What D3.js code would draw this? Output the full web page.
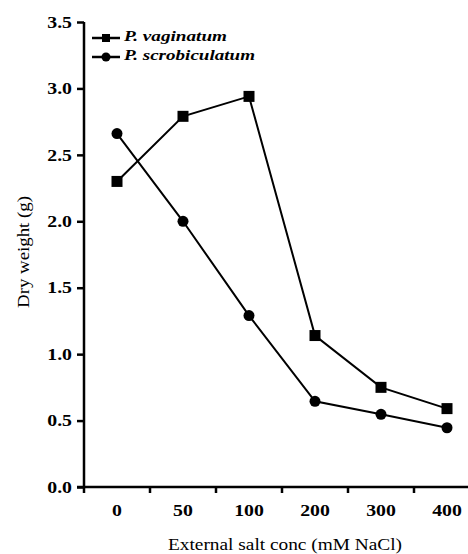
<!DOCTYPE html>
<html>
<head>
<meta charset="utf-8">
<script src="https://cdn.jsdelivr.net/npm/d3@7"></script>
<style>
  body { margin: 0; background: #fff; }
  svg text { font-family: "Liberation Serif", "Times New Roman", serif; fill: #000; }
  .axis path, .axis line { stroke: #000; stroke-width: 2.5; }
  .axis text { font-size: 16.5px; font-weight: bold; }
  .axis-title { font-size: 16px; }
  .legend text { font-size: 15.5px; font-weight: bold; font-style: italic; }
</style>
</head>
<body>
<svg id="chart"></svg>
<script>
// salt concentrations (mM NaCl), plotted as evenly spaced categories
const concs = ['0', '50', '100', '200', '300', '400'];
const vaginatum = [2.30, 2.79, 2.94, 1.14, 0.75, 0.59];
const scrobiculatum = [2.66, 2.00, 1.29, 0.645, 0.547, 0.446];
const yTicks = [0, 0.5, 1.0, 1.5, 2.0, 2.5, 3.0, 3.5];
const seriesNames = ['P. vaginatum', 'P. scrobiculatum'];

const width = 468, height = 554;
const margin = {top: 22, right: -12, bottom: 67, left: 84};

// the original typesetting is a bit wider than Liberation Serif, so stretch text
function stretch(sel, k) {
  sel.each(function() {
    const w = this.getComputedTextLength();
    d3.select(this)
      .attr('textLength', w * k)
      .attr('lengthAdjust', 'spacingAndGlyphs');
  });
}

const svg = d3.select('#chart')
    .attr('width', width)
    .attr('height', height);

const innerW = width - margin.left - margin.right;
const innerH = height - margin.top - margin.bottom;

const chart = svg.append('g')
    .attr('transform', `translate(${margin.left},${margin.top})`);

const xScale = d3.scaleBand(concs, [0, innerW]);
const yScale = d3.scaleLinear([0, 3.5], [innerH, 0]);

// x axis: ticks sit on band edges, labels in band centres
const xAxisG = chart.append('g')
    .attr('class', 'axis x-axis')
    .attr('transform', `translate(0,${innerH})`);

xAxisG.append('line')
    .attr('x1', -7).attr('x2', width - margin.left)
    .attr('y1', 0).attr('y2', 0);

xAxisG.selectAll('.tick-mark')
    .data(concs)
    .join('line')
      .attr('class', 'tick-mark')
      .attr('x1', d => xScale(d)).attr('x2', d => xScale(d))
      .attr('y1', 0).attr('y2', 6);

xAxisG.selectAll('.tick-label')
    .data(concs)
    .join('text')
      .attr('class', 'tick-label')
      .attr('x', d => xScale(d) + xScale.bandwidth() / 2)
      .attr('y', 29)
      .style('text-anchor', 'middle')
      .text(d => d)
      .call(stretch, 1.2);

// y axis
const yAxis = d3.axisLeft(yScale)
    .tickValues(yTicks)
    .tickFormat(d3.format('.1f'))
    .tickSize(7)
    .tickSizeOuter(0)
    .tickPadding(5);

const yAxisG = chart.append('g')
    .attr('class', 'axis y-axis')
    .call(yAxis)
    .attr('font-family', null)
    .attr('font-size', null);

yAxisG.select('.domain').attr('d', `M0,${innerH + 1}V${yScale(3.5)}`);
yAxisG.selectAll('.tick text').call(stretch, 1.2);

// axis titles
svg.append('text')
    .attr('class', 'axis-title')
    .attr('x', 285)
    .attr('y', 550)
    .style('text-anchor', 'middle')
    .text('External salt conc (mM NaCl)')
    .attr('textLength', 234)
    .attr('lengthAdjust', 'spacingAndGlyphs');

svg.append('text')
    .attr('class', 'axis-title')
    .attr('transform', 'translate(29,252) rotate(-90)')
    .style('text-anchor', 'middle')
    .text('Dry weight (g)')
    .attr('textLength', 112)
    .attr('lengthAdjust', 'spacingAndGlyphs');

// lines + markers
const cx = (d, i) => xScale(concs[i]) + xScale.bandwidth() / 2;
const line = d3.line()
    .x(cx)
    .y(d => yScale(d));

[vaginatum, scrobiculatum].forEach((vals, k) => {
  chart.append('path')
      .datum(vals)
      .attr('fill', 'none')
      .attr('stroke', '#000')
      .attr('stroke-width', 2)
      .attr('d', line);

  if (k === 0) {
    chart.selectAll('.sq')
        .data(vals)
        .join('rect')
          .attr('class', 'sq')
          .attr('x', (d, i) => cx(d, i) - 5.5)
          .attr('y', d => yScale(d) - 5.5)
          .attr('width', 11).attr('height', 11)
          .attr('fill', '#000');
  } else {
    chart.selectAll('.dot')
        .data(vals)
        .join('circle')
          .attr('class', 'dot')
          .attr('cx', cx)
          .attr('cy', d => yScale(d))
          .attr('r', 5.5)
          .attr('fill', '#000');
  }
});

// legend
const legendW = [103, 131];
const legend = svg.append('g').attr('class', 'legend');
seriesNames.forEach((name, k) => {
  const ly = 38 + k * 19;
  legend.append('line')
      .attr('x1', 92).attr('x2', 120)
      .attr('y1', ly).attr('y2', ly)
      .attr('stroke', '#000').attr('stroke-width', 2.5);
  if (k === 0) {
    legend.append('rect')
        .attr('x', 102).attr('y', ly - 4)
        .attr('width', 8).attr('height', 8)
        .attr('fill', '#000');
  } else {
    legend.append('circle')
        .attr('cx', 106).attr('cy', ly)
        .attr('r', 4.5)
        .attr('fill', '#000');
  }
  legend.append('text')
      .attr('x', 124)
      .attr('y', ly + 3)
      .text(name)
      .attr('textLength', legendW[k])
      .attr('lengthAdjust', 'spacingAndGlyphs');
});
</script>
</body>
</html>
